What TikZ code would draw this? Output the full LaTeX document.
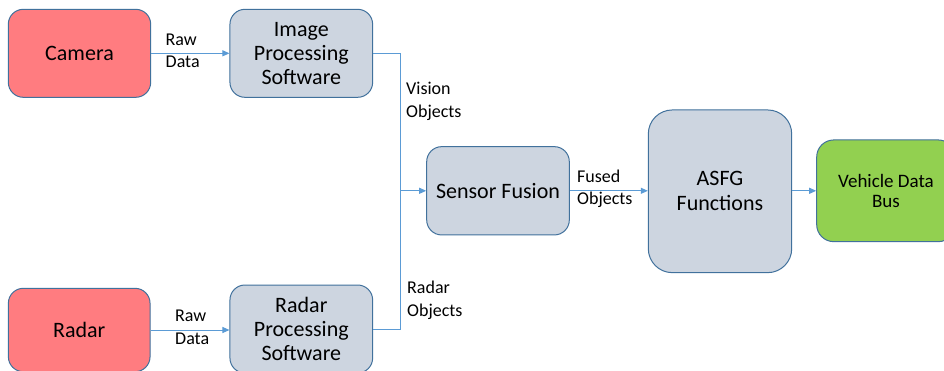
\documentclass[tikz,border=0pt]{standalone}
\usepackage{fontspec}
\setmainfont{Carlito}
\usetikzlibrary{arrows.meta}
\definecolor{redfill}{HTML}{FF7C80}
\definecolor{grayfill}{HTML}{CDD5E0}
\definecolor{greenfill}{HTML}{92D050}
\definecolor{edgeblue}{HTML}{41719C}
\definecolor{wire}{HTML}{5B9BD5}
\begin{document}
\begin{tikzpicture}[x=1pt,y=-1pt,
  box/.style={draw=edgeblue, line width=1pt, rounded corners=15pt, inner sep=0pt,
    align=center, font=\fontsize{22}{24}\selectfont},
  sensorbox/.style={box, fill=redfill},
  procbox/.style={box, fill=grayfill},
  flow/.style={draw=wire, line width=1pt, -{Triangle[length=7pt,width=6pt]}},
  plain/.style={draw=wire, line width=1pt},
  lbl/.style={align=left, anchor=west, inner sep=0pt, font=\fontsize{18}{22.5}\selectfont}]
\useasboundingbox (0,0) rectangle (944,370);
\clip (0,0) rectangle (944,370);

% sources
\node[sensorbox, minimum width=142.4pt, minimum height=88pt] (camera) at (79.5,53.3) {Camera};
\node[sensorbox, minimum width=141.7pt, minimum height=83.4pt] (radar) at (79.2,330) {Radar};

% per-sensor processing
\node[procbox, minimum width=142.7pt, minimum height=88pt] (ips) at (301.3,53.3) {Image\\Processing\\Software};
\node[procbox, minimum width=142.7pt, minimum height=88pt] (rps) at (301.3,329) {Radar\\Processing\\Software};

% fusion and functions
\node[procbox, minimum width=142.6pt, minimum height=88.3pt] (sf) at (498,190.8) {Sensor Fusion};
\node[procbox, rounded corners=24pt, minimum width=143.4pt, minimum height=162.7pt,
  font=\fontsize{22}{25}\selectfont] (asfg) at (720,191.3) {ASFG\\Functions};
\node[box, fill=greenfill, rounded corners=17pt, minimum width=138.6pt, minimum height=101.7pt,
  font=\fontsize{19}{20.5}\selectfont] (bus) at (886,190.8) {Vehicle Data\\Bus};

% junction where the object lists merge
\coordinate (jn) at (400,190.8);

% connectors
\draw[flow] (camera.east) -- (camera.east -| ips.west);
\draw[flow] (radar.east) -- (radar.east -| rps.west);
\draw[plain] (ips.east) -| (jn);
\draw[plain] (rps.east) -| (jn);
\draw[flow] (jn) -- (sf.west);
\draw[flow] (sf.east) -- (sf.east -| asfg.west);
\draw[flow] (asfg.east |- bus.west) -- (bus.west);

% connector labels
\node[lbl] (l1) at (165.5,51) {Raw\\Data};
\node[lbl] (l2) at (175,327.5) {Raw\\Data};
\node[lbl] (l3) at (406,101.5) {Vision\\Objects};
\node[lbl] (l4) at (407,300.5) {Radar\\Objects};
\node[lbl] (l5) at (577,189) {Fused\\Objects};
\end{tikzpicture}
\end{document}
